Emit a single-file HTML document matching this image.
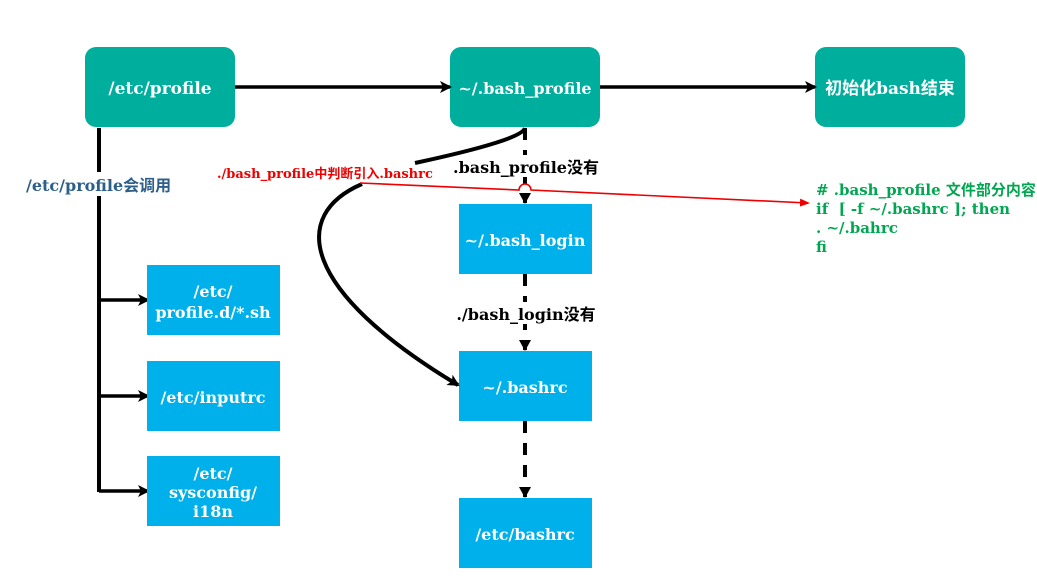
<!DOCTYPE html>
<html><head><meta charset="utf-8"><style>
html,body{margin:0;padding:0;background:#fff;width:1037px;height:582px;overflow:hidden}
svg text{font-family:"DejaVu Serif","Liberation Serif","Noto Sans CJK SC",serif;font-weight:bold;white-space:pre}
</style></head><body>
<svg width="1037" height="582" xmlns="http://www.w3.org/2000/svg">
<defs>
<marker id="a" markerWidth="12" markerHeight="12" refX="10" refY="6" orient="auto" markerUnits="userSpaceOnUse"><path d="M0,0 L12,6 L0,12 L3,6 z" fill="#000"/></marker>
<marker id="r" markerWidth="10" markerHeight="10" refX="8" refY="5" orient="auto" markerUnits="userSpaceOnUse"><path d="M0,1 L10,5 L0,9 z" fill="#e00"/></marker>
</defs>
<rect x="85" y="47" width="150" height="80" rx="11" fill="#00ae9d"/>
<rect x="450" y="47" width="150" height="80" rx="11" fill="#00ae9d"/>
<rect x="815" y="47" width="150" height="80" rx="11" fill="#00ae9d"/>
<text x="160" y="94" fill="#fff" font-size="17" text-anchor="middle">/etc/profile</text>
<text x="525" y="94" fill="#fff" font-size="16" text-anchor="middle">~/.bash_profile</text>
<text x="890" y="94" fill="#fff" font-size="17" text-anchor="middle">初始化bash结束</text>
<line x1="235" y1="87" x2="450" y2="87" stroke="#000" stroke-width="3.5" marker-end="url(#a)"/>
<line x1="600" y1="87" x2="815" y2="87" stroke="#000" stroke-width="3.5" marker-end="url(#a)"/>
<line x1="99" y1="128" x2="99" y2="492" stroke="#000" stroke-width="4"/>
<rect x="20" y="172" width="160" height="24" fill="#fff"/>
<text x="26" y="191" fill="#2c5f8a" font-size="16">/etc/profile会调用</text>
<line x1="99" y1="300" x2="148" y2="300" stroke="#000" stroke-width="3.5" marker-end="url(#a)"/>
<line x1="99" y1="396" x2="148" y2="396" stroke="#000" stroke-width="3.5" marker-end="url(#a)"/>
<line x1="99" y1="491" x2="148" y2="491" stroke="#000" stroke-width="3.5" marker-end="url(#a)"/>
<rect x="147" y="265" width="133" height="70" fill="#00b0eb"/>
<rect x="147" y="361" width="133" height="70" fill="#00b0eb"/>
<rect x="147" y="456" width="133" height="70" fill="#00b0eb"/>
<g fill="#fff" font-size="16" text-anchor="middle">
<text x="213" y="297">/etc/</text><text x="213" y="318">profile.d/*.sh</text>
<text x="213" y="403">/etc/inputrc</text>
<text x="213" y="479">/etc/</text><text x="213" y="498">sysconfig/</text><text x="213" y="517">i18n</text>
</g>
<g stroke="#000" stroke-width="4" stroke-dasharray="12,10">
<line x1="525" y1="128" x2="525" y2="203"/>
<line x1="525" y1="274" x2="525" y2="350"/>
<line x1="525" y1="421" x2="525" y2="497"/>
</g>
<path d="M519,193 L525,204 L531,193 z" fill="#000"/>
<path d="M519,340 L525,351 L531,340 z" fill="#000"/>
<path d="M519,487 L525,498 L531,487 z" fill="#000"/>
<rect x="459" y="204" width="133" height="70" fill="#00b0eb"/>
<rect x="459" y="351" width="133" height="70" fill="#00b0eb"/>
<rect x="459" y="498" width="133" height="70" fill="#00b0eb"/>
<g fill="#fff" font-size="16" text-anchor="middle">
<text x="525" y="246">~/.bash_login</text>
<text x="525" y="393">~/.bashrc</text>
<text x="525" y="540">/etc/bashrc</text>
</g>
<rect x="452" y="155" width="148" height="22" fill="#fff"/>
<text x="526" y="173" fill="#000" font-size="16" text-anchor="middle">.bash_profile没有</text>
<rect x="455" y="302" width="142" height="22" fill="#fff"/>
<text x="526" y="320" fill="#000" font-size="16" text-anchor="middle">./bash_login没有</text>
<path d="M525,128 Q522,140 415,163" fill="none" stroke="#000" stroke-width="4"/>
<path d="M362,184 C290,215 300,290 458,385" fill="none" stroke="#000" stroke-width="4" marker-end="url(#a)"/>
<text x="217" y="178" fill="#e00" font-size="13">./bash_profile中判断引入.bashrc</text>
<path d="M360,183 L519,190 A6,6 0 0 1 531,190 L808,203" fill="none" stroke="#e00" stroke-width="1.6" marker-end="url(#r)"/>
<g fill="#00a650" font-size="15">
<text x="816" y="195"># .bash_profile 文件部分内容</text>
<text x="816" y="214">if  [ -f ~/.bashrc ]; then</text>
<text x="816" y="233">. ~/.bahrc</text>
<text x="816" y="252">fi</text>
</g>
</svg>
</body></html>
